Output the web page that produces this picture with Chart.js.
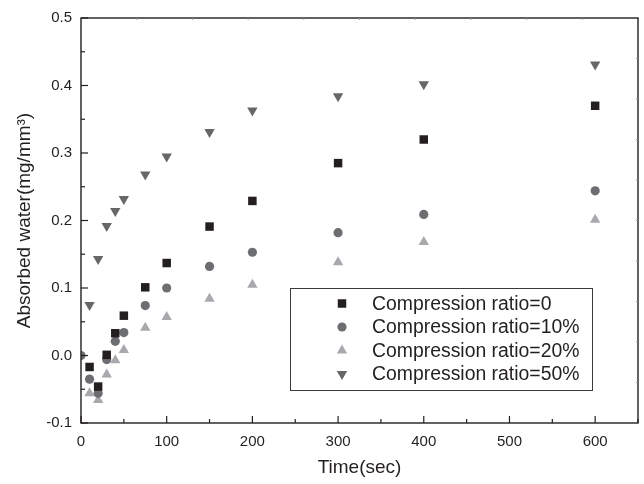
<!DOCTYPE html>
<html>
<head>
<meta charset="utf-8">
<script src="https://cdn.jsdelivr.net/npm/chart.js@4.4.1/dist/chart.umd.min.js"></script>
<style>
html,body{margin:0;padding:0;background:#fff;}
#wrap{width:644px;height:484px;position:relative;}
</style>
</head>
<body>
<div id="wrap"><canvas id="c" width="644" height="484"></canvas></div>
<script>
const times0   = [10, 20, 30, 40, 50, 75, 100, 150, 200, 300, 400, 600];
const times10  = [0, 10, 20, 30, 40, 50, 75, 100, 150, 200, 300, 400, 600];
const ratio0   = [-0.017, -0.046, 0.001, 0.033, 0.059, 0.101, 0.137, 0.191, 0.229, 0.285, 0.320, 0.370];
const ratio10  = [0.000, -0.035, -0.056, -0.006, 0.021, 0.034, 0.074, 0.100, 0.132, 0.153, 0.182, 0.209, 0.244];
const ratio20  = [-0.056, -0.066, -0.028, -0.007, 0.008, 0.041, 0.057, 0.084, 0.105, 0.138, 0.168, 0.201];
const ratio50  = [0.075, 0.143, 0.192, 0.214, 0.232, 0.268, 0.295, 0.331, 0.363, 0.384, 0.402, 0.431];
const seriesNames = ['Compression ratio=0', 'Compression ratio=10%', 'Compression ratio=20%', 'Compression ratio=50%'];
const xTicks = [0, 100, 200, 300, 400, 500, 600];
const yTicks = [-0.1, 0.0, 0.1, 0.2, 0.3, 0.4, 0.5];
const xTitle = 'Time(sec)';
const yTitle = 'Absorbed water(mg/mm\u00B3)';

const FONT = 'Arial, "Liberation Sans", sans-serif';
const AX = '#231f20';

function pts(xs, ys){ return xs.map((x,i)=>({x:x, y:ys[i]})); }

const styles = [
  {pointStyle:'rect', radius:6, rotation:0, color:'#231f20'},
  {pointStyle:'circle', radius:4.6, rotation:0, color:'#6d6e71'},
  {pointStyle:'triangle', radius:6, rotation:0, color:'#a7a9ac'},
  {pointStyle:'triangle', radius:6, rotation:180, color:'#666769'}
];
const dataSets = [pts(times0, ratio0), pts(times10, ratio10), pts(times0, ratio20), pts(times0, ratio50)];

const datasets = dataSets.map((d,i)=>({
  label: seriesNames[i],
  data: d,
  showLine: false,
  pointStyle: styles[i].pointStyle,
  pointRadius: styles[i].radius,
  pointHoverRadius: styles[i].radius,
  pointRotation: styles[i].rotation,
  backgroundColor: styles[i].color,
  borderColor: styles[i].color,
  borderWidth: 0
}));

const framePlugin = {
  id: 'frame',
  afterDatasetsDraw(chart){
    const ctx = chart.ctx, a = chart.chartArea;
    const xs = chart.scales.x, ys = chart.scales.y;
    ctx.save();
    ctx.strokeStyle = AX;
    ctx.lineWidth = 1.4;
    ctx.strokeRect(a.left, a.top, a.right - a.left, a.bottom - a.top);
    ctx.lineWidth = 1.2;
    for (let v = 0; v <= 650; v += 50){
      const px = xs.getPixelForValue(v);
      const len = (v % 100 === 0) ? 7 : 4;
      ctx.beginPath(); ctx.moveTo(px, a.bottom); ctx.lineTo(px, a.bottom - len); ctx.stroke();
    }
    for (let k = -2; k <= 10; k++){
      const v = k * 0.05;
      const py = ys.getPixelForValue(v);
      const len = (k % 2 === 0) ? 7 : 4;
      ctx.beginPath(); ctx.moveTo(a.left, py); ctx.lineTo(a.left + len, py); ctx.stroke();
    }
    ctx.strokeStyle = '#9a9a9a';
    ctx.lineWidth = 1;
    for (let i = 1; i < 10; i++){
      const px = a.left + (a.right - a.left) * i / 10;
      ctx.beginPath(); ctx.moveTo(px, a.top); ctx.lineTo(px, a.top + 2); ctx.stroke();
      const py = a.top + (a.bottom - a.top) * i / 10;
      ctx.beginPath(); ctx.moveTo(a.right, py); ctx.lineTo(a.right - 2, py); ctx.stroke();
    }
    const bx = 290, by = 288, bw = 302, bh = 102;
    ctx.strokeStyle = '#3a3a3a';
    ctx.lineWidth = 1;
    ctx.fillStyle = '#fff';
    ctx.fillRect(bx, by, bw, bh);
    ctx.strokeRect(bx + 0.5, by + 0.5, bw, bh);
    const rowY = [303.5, 327, 350.5, 374];
    ctx.font = '19.4px ' + FONT;
    ctx.textBaseline = 'middle';
    ctx.textAlign = 'left';
    chart.data.datasets.forEach((ds, i)=>{
      const st = styles[i];
      ctx.fillStyle = st.color; ctx.strokeStyle = st.color;
      Chart.helpers.drawPoint(ctx, {pointStyle: st.pointStyle, rotation: st.rotation, radius: st.radius, borderWidth: 0}, 342, rowY[i]);
      ctx.fillStyle = '#231f20';
      ctx.fillText(ds.label, 372, rowY[i] + 1);
    });
    ctx.restore();
  }
};

new Chart(document.getElementById('c'), {
  type: 'scatter',
  data: { datasets: datasets },
  plugins: [framePlugin],
  options: {
    responsive: false,
    animation: false,
    devicePixelRatio: 1,
    layout: { padding: { top: 14, right: 6, left: 0, bottom: 0 } },
    plugins: { legend: { display: false }, tooltip: { enabled: false } },
    scales: {
      x: {
        type: 'linear', min: 0, max: 650,
        afterFit(s){ s.height = 61; },
        afterBuildTicks(s){ s.ticks = xTicks.map(v=>({value:v})); },
        grid: { display: false, drawTicks: false },
        border: { display: false },
        ticks: { padding: 10, color: '#231f20', font: { family: FONT, size: 15 }, maxRotation: 0, callback: v => String(v) },
        title: { display: true, text: xTitle, color: '#231f20', font: { family: FONT, size: 19 }, padding: { top: 0, bottom: 5 } }
      },
      y: {
        type: 'linear', min: -0.1, max: 0.5,
        afterFit(s){ s.width = 81; },
        afterBuildTicks(s){ s.ticks = yTicks.map(v=>({value:v})); },
        grid: { display: false, drawTicks: false },
        border: { display: false },
        ticks: { padding: 9, color: '#231f20', font: { family: FONT, size: 15 }, callback: v => Number(v).toFixed(1) },
        title: { display: true, text: yTitle, color: '#231f20', font: { family: FONT, size: 19 }, padding: { top: 13, bottom: 0 } }
      }
    }
  }
});
</script>
</body>
</html>
